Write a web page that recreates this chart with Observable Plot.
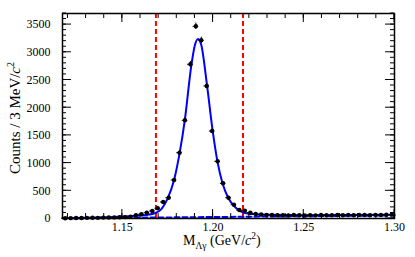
<!DOCTYPE html>
<html><head><meta charset="utf-8">
<script src="https://cdn.jsdelivr.net/npm/d3@7"></script>
<script src="https://cdn.jsdelivr.net/npm/@observablehq/plot@0.6"></script>
<style>body{margin:0;background:#fff} svg{display:block}</style>
</head><body><div id="chart"></div>
<script>
// Bin centres (GeV/c^2), 3 MeV bins
const binCenters = [1.1185,1.1215,1.1245,1.1275,1.1305,1.1335,1.1365,1.1395,1.1425,1.1455,
  1.1485,1.1515,1.1545,1.1575,1.1605,1.1635,1.1665,1.1695,1.1725,1.1755,
  1.1785,1.1815,1.1845,1.1875,1.1905,1.1935,1.1965,1.1995,1.2025,1.2055,
  1.2085,1.2115,1.2145,1.2175,1.2205,1.2235,1.2265,1.2295,1.2325,1.2355,
  1.2385,1.2415,1.2445,1.2475,1.2505,1.2535,1.2565,1.2595,1.2625,1.2655,
  1.2685,1.2715,1.2745,1.2775,1.2805,1.2835,1.2865,1.2895,1.2925,1.2955,1.2985];
const counts = [5,6,8,10,12,14,12,16,18,20,
  22,25,32,58,76,105,135,184,298,375,
  695,1188,1772,2783,3469,3217,2392,1579,1032,635,
  375,249,153,140,105,80,72,66,62,58,
  60,56,62,58,55,60,57,62,60,58,
  63,60,62,58,65,62,60,66,64,68,70];
// Fit curve
const fitX = [1.117,1.130,1.140,1.150,1.158,1.163,1.1674,1.1715,1.1748,1.1785,1.1816,1.1844,1.1881,1.1900,1.1917,1.1935,1.1967,1.1998,1.2024,1.2052,1.2083,1.2125,1.2171,1.222,1.230,1.250,1.270,1.300];
const fitY = [8,14,22,35,50,65,90,170,350,695,1188,1772,2783,3130,3240,3130,2392,1579,1032,635,375,195,105,80,68,60,62,68];
// Background component
const bkgX = [1.117,1.300];
const bkgY = [3,55];
const cutLines = [1.1685,1.2165];
const xMajorTicks = [1.15,1.20,1.25,1.30];
const xMinorTicks = [1.12,1.13,1.14,1.15,1.16,1.17,1.18,1.19,1.20,1.21,1.22,1.23,1.24,1.25,1.26,1.27,1.28,1.29,1.30];
const yMajorTicks = [0,500,1000,1500,2000,2500,3000,3500];
const yMinorTicks = d3.range(0,3701,100);

const pts = binCenters.map((x,i)=>({x, y:counts[i], e:Math.sqrt(counts[i])}));
const fit = fitX.map((x,i)=>({x, y:fitY[i]}));
const bkg = bkgX.map((x,i)=>({x, y:bkgY[i]}));

const chart = Plot.plot({
  width:415, height:257,
  marginLeft:62, marginRight:21, marginTop:13, marginBottom:39,
  x:{domain:[1.117,1.3]},
  y:{domain:[0,3700]},
  style:{fontFamily:"Liberation Serif", fontSize:"12px", color:"black", background:"white"},
  marks:[
    Plot.ruleX(cutLines,{stroke:"#ff0000", strokeWidth:2, strokeDasharray:"5,3"}),
    Plot.line(bkg,{x:"x", y:"y", stroke:"#0000ff", strokeWidth:2, strokeDasharray:"5,3"}),
    Plot.line(fit,{x:"x", y:"y", stroke:"#0000ff", strokeWidth:2, curve:"monotone-x"}),
    Plot.ruleY(pts,{y:"y", x1:d=>d.x-0.0015, x2:d=>d.x+0.0015, stroke:"black", strokeWidth:1}),
    Plot.ruleX(pts,{x:"x", y1:d=>d.y-d.e, y2:d=>d.y+d.e, stroke:"black", strokeWidth:1}),
    Plot.dot(pts,{x:"x", y:"y", r:2.2, fill:"black", stroke:null}),
    Plot.axisX({anchor:"bottom", ticks:xMajorTicks, tickSize:0, tickPadding:4, tickFormat:d3.format(".2f"), fontSize:12, label:null}),
    Plot.axisY({anchor:"left", ticks:yMajorTicks, tickSize:0, tickPadding:12, fontSize:12, tickFormat:d3.format("d"), label:null}),
    Plot.frame({stroke:"black", strokeWidth:1.5})
  ]
});
document.getElementById("chart").appendChild(chart);

const svg = d3.select(chart);
const sx = chart.scale("x"), sy = chart.scale("y");
const [L, R] = sx.range, [B, T] = sy.range;
const tg = svg.append("g").attr("stroke","black").attr("stroke-width",1);
function xt(v, len){
  const px = sx.apply(v);
  tg.append("line").attr("x1",px).attr("x2",px).attr("y1",B).attr("y2",B-len);
  tg.append("line").attr("x1",px).attr("x2",px).attr("y1",T).attr("y2",T+len);
}
function ytk(v, len){
  const py = sy.apply(v);
  tg.append("line").attr("y1",py).attr("y2",py).attr("x1",L).attr("x2",L+len);
  tg.append("line").attr("y1",py).attr("y2",py).attr("x1",R).attr("x2",R-len);
}
xMinorTicks.forEach(v=>xt(v,5));
xMajorTicks.forEach(v=>xt(v,9));
yMinorTicks.forEach(v=>ytk(v,4));
yMajorTicks.forEach(v=>ytk(v,9));

// y-axis title
const yt = svg.append("text")
  .attr("transform","translate(20,118) rotate(-90)")
  .attr("text-anchor","middle")
  .style("font-family","Liberation Serif").style("font-size","15px").attr("fill","black");
yt.append("tspan").text("Counts / 3 MeV/");
yt.append("tspan").style("font-style","italic").text("c");
yt.append("tspan").attr("dy","-6").style("font-size","10px").text("2");
// x-axis title
const xtt = svg.append("text")
  .attr("x",183).attr("y",245).attr("text-anchor","start")
  .style("font-family","Liberation Serif").style("font-size","14px").attr("fill","black");
xtt.append("tspan").text("M");
xtt.append("tspan").attr("dy","4").style("font-size","9.5px").text("Λγ");
xtt.append("tspan").attr("dy","-4").text(" (GeV/");
xtt.append("tspan").style("font-style","italic").text("c");
xtt.append("tspan").attr("dy","-6").style("font-size","9.5px").text("2");
xtt.append("tspan").attr("dy","6").text(")");
</script>
</body></html>
